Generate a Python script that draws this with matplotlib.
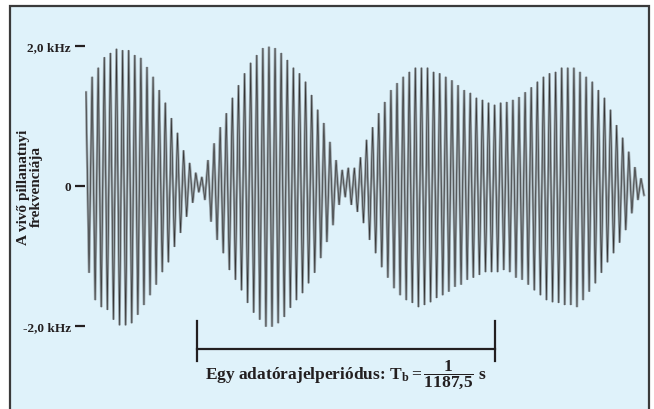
import numpy as np
import matplotlib.pyplot as plt
from matplotlib.patches import Rectangle

plt.rcParams['mathtext.fontset'] = 'custom'
plt.rcParams['mathtext.rm'] = 'Liberation Serif:bold'
plt.rcParams['mathtext.it'] = 'Liberation Serif:bold'
plt.rcParams['mathtext.bf'] = 'Liberation Serif:bold'

# positive frequency peaks of each carrier cycle (kHz)
upper_peaks = [1.34, 1.56, 1.69, 1.84, 1.90, 1.96, 1.94, 1.94, 1.87, 1.83, 1.70, 1.56,
               1.37, 1.19, 0.97, 0.76, 0.51, 0.33, 0.19, 0.13, 0.37, 0.61, 0.84,
               1.04, 1.26, 1.44, 1.61, 1.76, 1.87, 1.97, 1.99, 1.97, 1.90, 1.80, 1.69,
               1.61, 1.49, 1.30, 1.09, 0.90, 0.63, 0.37, 0.23, 0.26, 0.26,
               0.41, 0.66, 0.84, 1.04, 1.20, 1.37, 1.47, 1.56, 1.63, 1.69, 1.69, 1.69,
               1.63, 1.61, 1.56, 1.51, 1.44, 1.37, 1.33, 1.26, 1.23,
               1.19, 1.16, 1.19, 1.20, 1.23, 1.27, 1.34, 1.41, 1.49, 1.56, 1.61, 1.63,
               1.69, 1.69, 1.69, 1.63, 1.56, 1.49, 1.37, 1.26, 1.09, 0.87, 0.69, 0.49,
               0.27, 0.11]
# negative frequency peaks (kHz)
lower_peaks = [-1.24, -1.63, -1.73, -1.77, -1.91, -1.99, -1.99, -1.96, -1.84, -1.70, -1.56,
               -1.41, -1.23, -1.09, -0.87, -0.67, -0.44, -0.24, -0.09, -0.20, -0.51, -0.77,
               -0.96,
               -1.20, -1.34, -1.49, -1.67, -1.81, -1.91, -2.01, -2.01, -1.96, -1.87, -1.74,
               -1.63, -1.53, -1.39, -1.24, -1.03, -0.80, -0.56, -0.27, -0.16, -0.27, -0.37,
               -0.53, -0.77, -0.96, -1.16, -1.31, -1.46, -1.56, -1.63, -1.67, -1.73, -1.70,
               -1.66, -1.60, -1.56, -1.51, -1.44, -1.41, -1.34, -1.31, -1.27, -1.23,
               -1.23, -1.23, -1.20, -1.23, -1.31, -1.34, -1.41, -1.49, -1.56, -1.63, -1.66,
               -1.67, -1.70, -1.70, -1.73, -1.63, -1.51, -1.39, -1.24, -1.09, -0.96, -0.81,
               -0.63, -0.39, -0.20, -0.13]

yticks = [-2.0, 0.0, 2.0]
ytick_labels = ["-2,0 kHz", "0", "2,0 kHz"]
ylabel = "A vivő pillanatnyi\nfrekvenciája"
bracket_start, bracket_end = 18.2, 67.0   # in carrier cycles
bracket_text = r"Egy adatórajelperiódus: $\mathrm{T_b = \dfrac{1}{1187{,}5}}$ s"

ink = '#231f20'
bg = '#dff2fa'

fig = plt.figure(figsize=(6.54, 4.10), dpi=100)
fig.patch.set_facecolor('white')
fig.patches.append(Rectangle((10 / 654, -0.05), 639 / 654, 1 - 7 / 410 + 0.05,
                             transform=fig.transFigure, facecolor=bg,
                             edgecolor='#3a3a3a', linewidth=1.6, zorder=-1))

ax = fig.add_axes([85 / 654, 10 / 410, 565 / 654, 370 / 410])
ax.set_facecolor('none')
ax.set_zorder(2)

# zigzag between successive peaks
n = len(upper_peaks)
t = np.empty(2 * n)
y = np.empty(2 * n)
t[0::2] = np.arange(n)
t[1::2] = np.arange(n) + 0.5
y[0::2] = upper_peaks
y[1::2] = lower_peaks
ax.plot(t, y, color='#939ca1', lw=1.8, solid_joinstyle='miter')
ax.plot(t, y, color='#333333', lw=0.45)

ax.set_xlim(-1 / 6.1, 91 + 9 / 6.1)
ax.set_ylim((187 - 400) / 70, (187 - 30) / 70)

for s in ax.spines.values():
    s.set_visible(False)
ax.set_xticks([])
ax.set_yticks(yticks)
ax.set_yticklabels(ytick_labels, fontfamily='Liberation Serif', fontweight='bold',
                   fontsize=9.5, color=ink)
ax.tick_params(axis='y', length=7, width=1.6, color=ink, pad=3)

fig.text(30 / 654, 1 - 187 / 410, ylabel, rotation=90, ha='center', va='center',
         fontfamily='Liberation Serif', fontweight='bold', fontsize=11, color=ink,
         linespacing=1.05, zorder=3)

# bracket marking one data clock period
yb_top, yb_bot, yb_mid = (187 - 322) / 70, (187 - 362) / 70, (187 - 350) / 70
ax.plot([bracket_start, bracket_start], [yb_top, yb_bot], color=ink, lw=1.6)
ax.plot([bracket_end, bracket_end], [yb_top, yb_bot], color=ink, lw=1.6)
ax.plot([bracket_start, bracket_end], [yb_mid, yb_mid], color=ink, lw=1.6)
ax.text((bracket_start + bracket_end) / 2, (187 - 375) / 70, bracket_text,
        ha='center', va='center', fontfamily='Liberation Serif', fontweight='bold',
        fontsize=12.5, color=ink)

fig.savefig('out.png', dpi=100)
